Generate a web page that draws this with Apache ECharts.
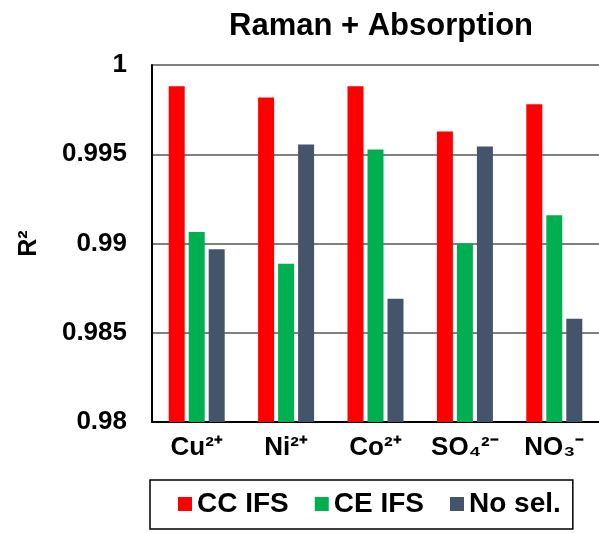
<!DOCTYPE html>
<html>
<head>
<meta charset="utf-8">
<script src="https://cdn.jsdelivr.net/npm/echarts@6/dist/echarts.min.js"></script>
<style>
  html, body { margin: 0; padding: 0; background: #fff; }
  #main { width: 599px; height: 533px; }
</style>
</head>
<body>
<div id="main"></div>
<script>
// data
var categories = ['Cu²⁺', 'Ni²⁺', 'Co²⁺', 'SO₄²⁻', 'NO₃⁻'];
var seriesNames = ['CC IFS', 'CE IFS', 'No sel.'];
var ccIfs = [0.99881, 0.99818, 0.99881, 0.99627, 0.99780];
var ceIfs = [0.99065, 0.98886, 0.99526, 0.99000, 0.99158];
var noSel = [0.98968, 0.99554, 0.98690, 0.99544, 0.98579];
var yTicks = ['0.98', '0.985', '0.99', '0.995', '1'];

var colors = ['#FF0000', '#00B050', '#44546A'];
var font = 'Liberation Sans, Arial, sans-serif';

var chart = echarts.init(document.getElementById('main'));

function bar(name, data, color) {
  return {
    name: name,
    type: 'bar',
    data: data,
    barWidth: 16,
    barGap: '25%',
    itemStyle: { color: color },
  };
}

var option = {
  animation: false,
  textStyle: { fontFamily: font },
  title: {
    text: 'Raman + Absorption',
    left: 376,
    textAlign: 'center',
    top: 6,
    textStyle: { fontFamily: font, fontSize: 31, fontWeight: 'bold', color: '#000' },
  },
  legend: {
    data: seriesNames,
    left: 150,
    top: 480,
    padding: [10, 12, 11, 28],
    borderColor: '#000',
    borderWidth: 1.5,
    itemGap: 26,
    itemWidth: 14,
    itemHeight: 14,
    icon: 'rect',
    textStyle: { fontFamily: font, fontSize: 28, fontWeight: 'bold', color: '#000' },
  },
  grid: {
    left: 152,
    top: 65,
    width: 456,
    height: 357,
  },
  xAxis: {
    type: 'category',
    data: categories,
    axisTick: { show: false },
    axisLine: { lineStyle: { color: '#000', width: 2 } },
    axisLabel: {
      margin: 13,
      fontFamily: font,
      fontSize: 26,
      fontWeight: 'bold',
      color: '#000',
    },
  },
  yAxis: {
    type: 'value',
    min: 0.98,
    max: 1,
    interval: 0.005,
    name: 'R²',
    nameLocation: 'middle',
    nameRotate: 90,
    nameGap: 110,
    nameTextStyle: { fontFamily: font, fontSize: 25, fontWeight: 'bold', color: '#000' },
    axisLine: { show: true, lineStyle: { color: '#000', width: 2 } },
    axisTick: { show: false },
    axisLabel: {
      margin: 25,
      fontFamily: font,
      fontSize: 26,
      fontWeight: 'bold',
      color: '#000',
      formatter: function (v, i) { return yTicks[i]; },
    },
    splitLine: { lineStyle: { color: '#808080', width: 2 } },
  },
  series: [
    bar(seriesNames[0], ccIfs, colors[0]),
    bar(seriesNames[1], ceIfs, colors[1]),
    bar(seriesNames[2], noSel, colors[2]),
  ],
};

chart.setOption(option);
</script>
</body>
</html>
